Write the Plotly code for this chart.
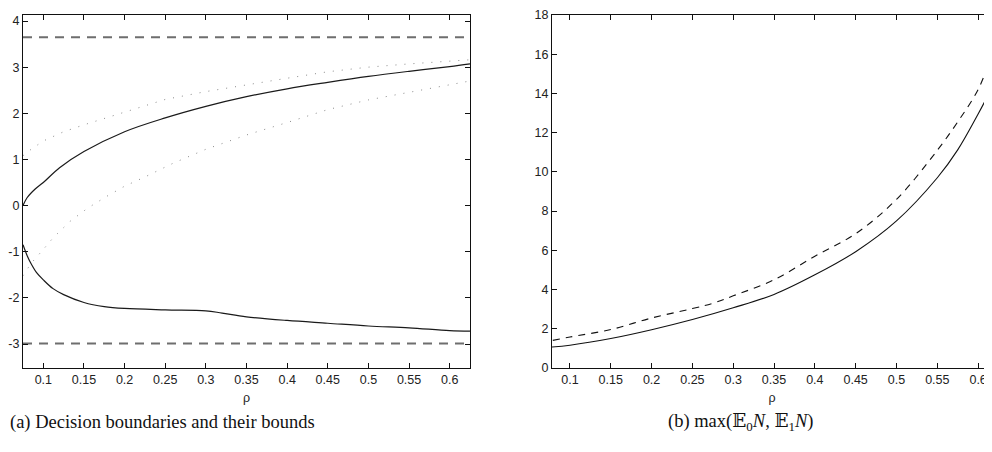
import plotly.graph_objects as go

# ---------------- data: panel (a) ----------------
rho_up = [0.075, 0.08, 0.09, 0.1, 0.12, 0.15, 0.2, 0.25, 0.3, 0.35, 0.4, 0.45, 0.5, 0.55, 0.6, 0.625]
bound_up = [0.0, 0.17, 0.36, 0.50, 0.82, 1.17, 1.60, 1.90, 2.15, 2.36, 2.53, 2.67, 2.80, 2.91, 3.01, 3.07]

rho_up_bnd = [0.075, 0.085, 0.1, 0.125, 0.15, 0.2, 0.25, 0.3, 0.35, 0.4, 0.45, 0.5, 0.55, 0.6, 0.625]
bound_up_bnd = [1.08, 1.22, 1.40, 1.60, 1.75, 2.02, 2.30, 2.47, 2.62, 2.76, 2.90, 3.00, 3.07, 3.12, 3.16]

rho_lo_bnd = [0.075, 0.085, 0.1, 0.112, 0.133, 0.155, 0.178, 0.2, 0.225, 0.26, 0.3, 0.35, 0.4, 0.45, 0.5, 0.55, 0.6, 0.625]
bound_lo_bnd = [-1.52, -1.25, -0.95, -0.70, -0.34, -0.05, 0.20, 0.42, 0.62, 0.92, 1.22, 1.53, 1.80, 2.08, 2.29, 2.46, 2.62, 2.70]

rho_lo = [0.075, 0.08, 0.085, 0.092, 0.1, 0.112, 0.125, 0.15, 0.175, 0.2, 0.25, 0.3, 0.32, 0.35, 0.4, 0.45, 0.5, 0.55, 0.6, 0.625]
bound_lo = [-0.85, -1.08, -1.26, -1.46, -1.61, -1.80, -1.93, -2.10, -2.19, -2.23, -2.26, -2.28, -2.33, -2.41, -2.49, -2.55, -2.61, -2.65, -2.71, -2.72]

rho_limits = [0.075, 0.625]
upper_limit = 3.65
lower_limit = -2.99

# ---------------- data: panel (b) ----------------
rho_b_solid = [0.078, 0.1, 0.15, 0.2, 0.25, 0.3, 0.35, 0.4, 0.45, 0.5, 0.55, 0.575, 0.6, 0.617]
EN_solid = [1.07, 1.16, 1.50, 1.95, 2.47, 3.07, 3.75, 4.75, 5.93, 7.50, 9.70, 11.12, 12.95, 14.3]

rho_b_dash = [0.079, 0.1, 0.15, 0.2, 0.25, 0.275, 0.3, 0.35, 0.4, 0.45, 0.5, 0.55, 0.575, 0.6, 0.617]
EN_dash = [1.41, 1.58, 1.96, 2.55, 3.03, 3.30, 3.68, 4.50, 5.70, 6.85, 8.60, 11.10, 12.55, 14.2, 16.0]

x_ticks = [0.1, 0.15, 0.2, 0.25, 0.3, 0.35, 0.4, 0.45, 0.5, 0.55, 0.6]
x_tick_text = ["0.1", "0.15", "0.2", "0.25", "0.3", "0.35", "0.4", "0.45", "0.5", "0.55", "0.6"]
ya_ticks = [-3, -2, -1, 0, 1, 2, 3, 4]
ya_tick_text = ["-3", "-2", "-1", "0", "1", "2", "3", "4"]
yb_ticks = [0, 2, 4, 6, 8, 10, 12, 14, 16, 18]

# the page body has an 8px margin: size the figure so it ends at the window edge
OFF = 8
W, H = 992 - OFF, 452 - OFF


def px_x(p):
    return (p - OFF) / W


def px_y(p):
    return 1 - (p - OFF) / H


fig = go.Figure()

fig.add_trace(go.Scatter(x=rho_limits, y=[upper_limit, upper_limit], mode="lines",
                         line=dict(color="#6e6e6e", width=2, dash="9px,7px"),
                         xaxis="x", yaxis="y", showlegend=False))
fig.add_trace(go.Scatter(x=rho_limits, y=[lower_limit, lower_limit], mode="lines",
                         line=dict(color="#6e6e6e", width=2, dash="9px,7px"),
                         xaxis="x", yaxis="y", showlegend=False))
fig.add_trace(go.Scatter(x=rho_up_bnd, y=bound_up_bnd, mode="lines",
                         line=dict(color="#8a8a8a", width=1, dash="1px,8px"),
                         xaxis="x", yaxis="y", showlegend=False))
fig.add_trace(go.Scatter(x=rho_lo_bnd, y=bound_lo_bnd, mode="lines",
                         line=dict(color="#8a8a8a", width=1, dash="1px,8px"),
                         xaxis="x", yaxis="y", showlegend=False))
fig.add_trace(go.Scatter(x=rho_up, y=bound_up, mode="lines", line_shape="spline",
                         line=dict(color="#1a1a1a", width=1.2),
                         xaxis="x", yaxis="y", showlegend=False))
fig.add_trace(go.Scatter(x=rho_lo, y=bound_lo, mode="lines", line_shape="spline",
                         line=dict(color="#1a1a1a", width=1.2),
                         xaxis="x", yaxis="y", showlegend=False))

fig.add_trace(go.Scatter(x=rho_b_dash, y=EN_dash, mode="lines", line_shape="spline",
                         line=dict(color="#111111", width=1.1, dash="7px,6px"),
                         xaxis="x2", yaxis="y2", showlegend=False))
fig.add_trace(go.Scatter(x=rho_b_solid, y=EN_solid, mode="lines", line_shape="spline",
                         line=dict(color="#111111", width=1.1),
                         xaxis="x2", yaxis="y2", showlegend=False))

tick_font = dict(family="Liberation Sans, Arial, sans-serif", size=12.5, color="#222222")
common_x = dict(tickmode="array", tickvals=x_ticks, ticktext=x_tick_text,
                ticks="inside", ticklen=5, tickcolor="#111", tickwidth=1,
                showline=True, linecolor="#111", linewidth=1.2, mirror="ticks",
                showgrid=False, zeroline=False, tickfont=tick_font, automargin=False,
                ticklabeloverflow="allow",
                title=dict(text="ρ", font=tick_font, standoff=7))
common_y = dict(ticks="inside", ticklen=5, tickcolor="#111", tickwidth=1,
                showline=True, linecolor="#111", linewidth=1.2,
                showgrid=False, zeroline=False, tickfont=tick_font, automargin=False,
                ticklabeloverflow="allow")

y_dom = [px_y(368), px_y(15)]
cap_font = dict(family="Liberation Serif, DejaVu Serif, serif", size=18.5, color="#111")

fig.update_layout(
    template="none",
    width=W, height=H,
    margin=dict(l=0, r=0, t=0, b=0),
    paper_bgcolor="white", plot_bgcolor="white",
    xaxis=dict(domain=[px_x(23), px_x(470)], range=[0.075, 0.625], anchor="y", **common_x),
    yaxis=dict(domain=y_dom, range=[-3.52, 4.13], anchor="x",
               tickmode="array", tickvals=ya_ticks, ticktext=ya_tick_text,
               mirror="ticks", **common_y),
    xaxis2=dict(domain=[px_x(552), 1.0], range=[0.078, 0.617], anchor="y2", **common_x),
    yaxis2=dict(domain=y_dom, range=[0, 18], anchor="x2",
                tickmode="array", tickvals=yb_ticks, mirror=False, **common_y),
    annotations=[
        dict(text="(a) Decision boundaries and their bounds", x=0.0, y=px_y(422),
             xref="paper", yref="paper", xanchor="left", yanchor="middle", showarrow=False,
             font=cap_font),
        dict(text="(b) max(𝔼<sub>0</sub><i>N</i>, 𝔼<sub>1</sub><i>N</i>)", x=px_x(740), y=px_y(422),
             xref="paper", yref="paper", xanchor="center", yanchor="middle", showarrow=False,
             font=cap_font),
    ],
)

fig.write_html("out.html")
